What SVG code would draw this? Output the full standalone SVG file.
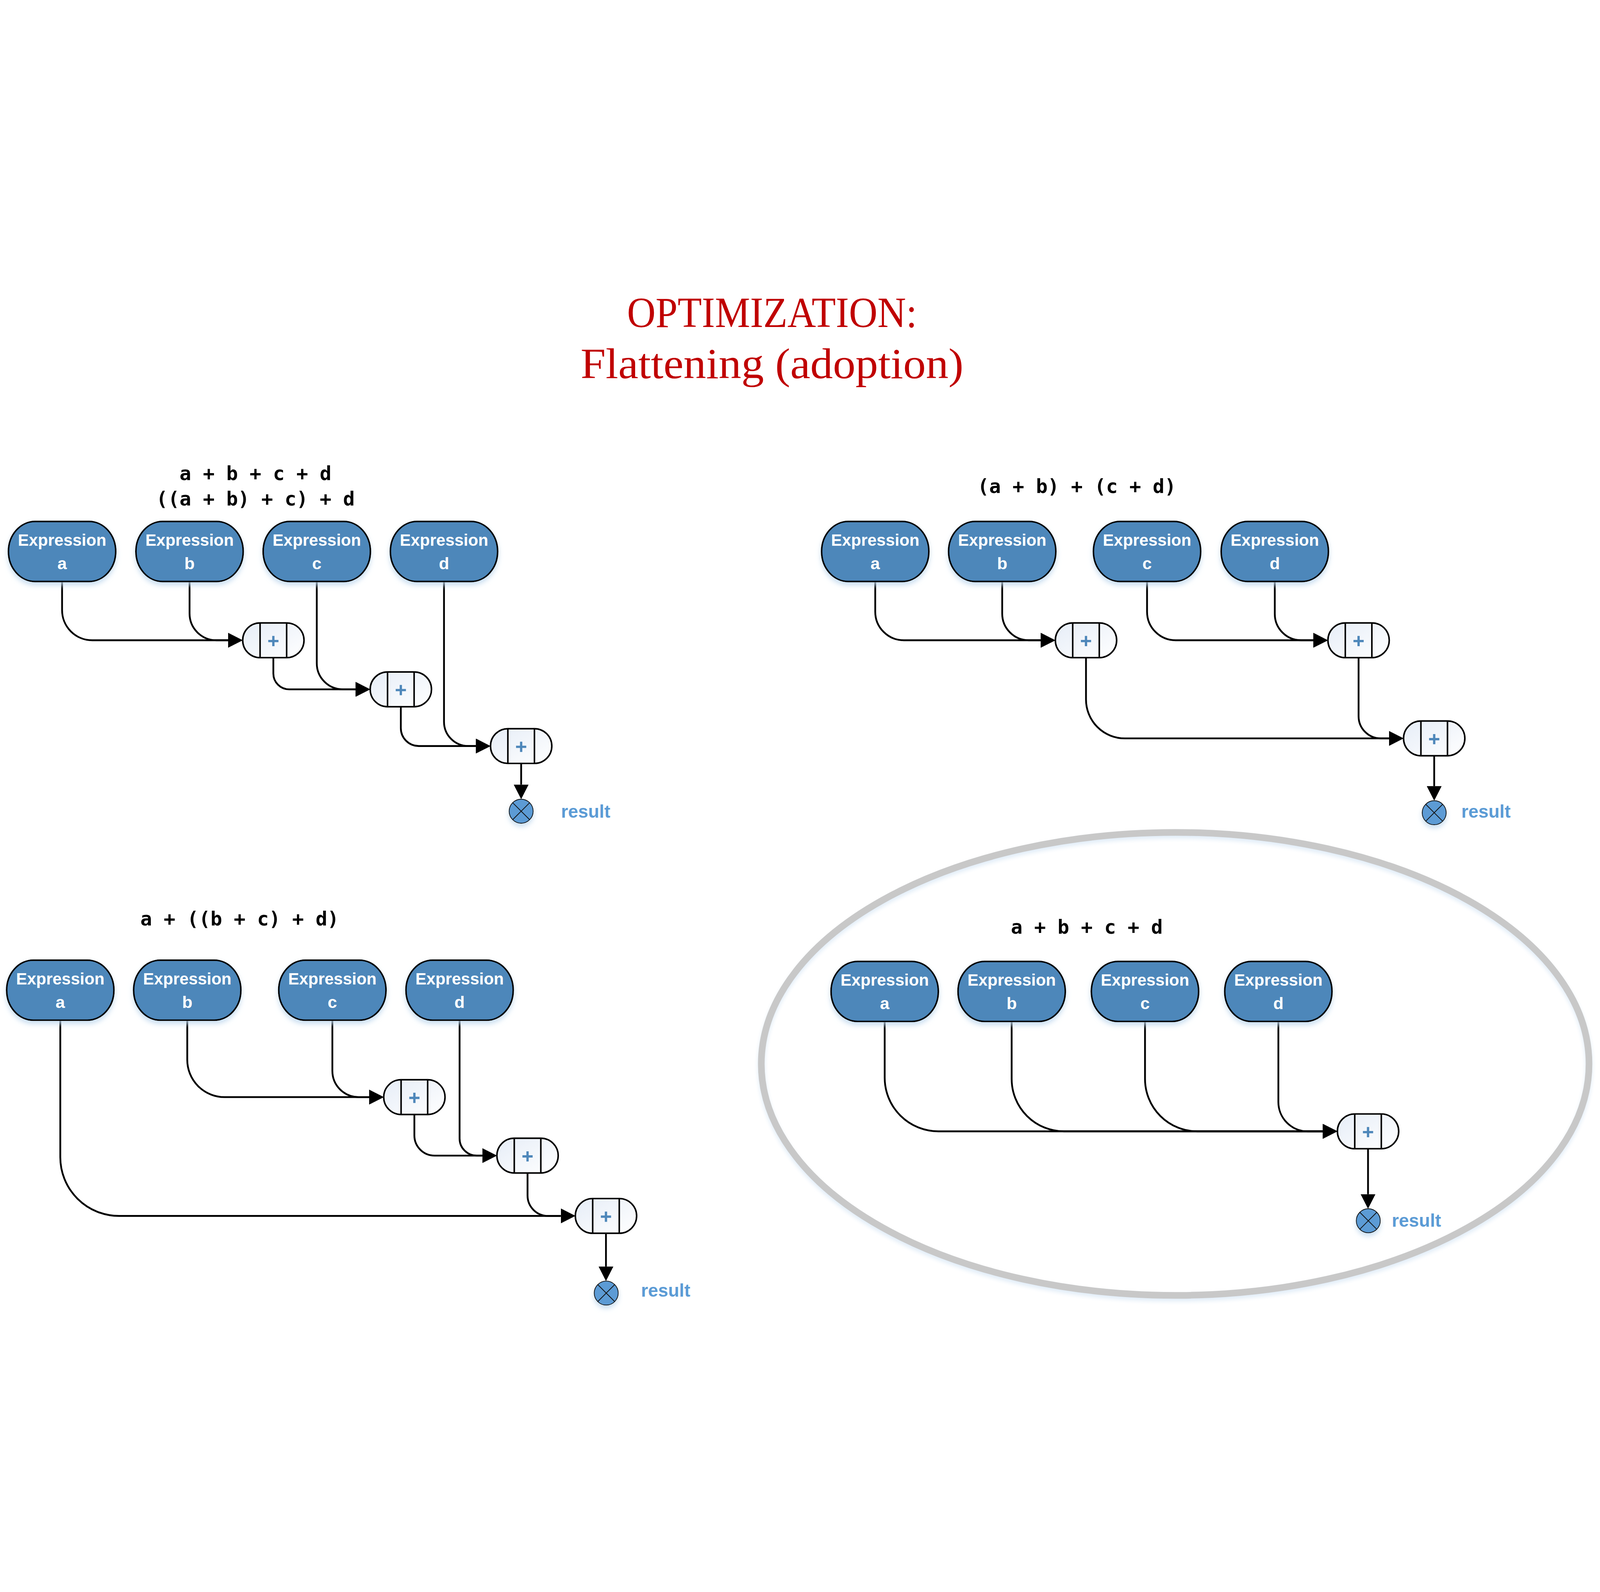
<svg xmlns="http://www.w3.org/2000/svg" width="6263" height="4075" viewBox="0 0 6263 4075">
<defs>
<style>
svg:root{width:100vw;height:100vh;overflow:hidden}
.box{fill:#4E87BA;stroke:#000;stroke-width:6;filter:url(#sh)}
.bt{font-family:"Liberation Sans",Arial,sans-serif;font-weight:bold;font-size:66px;fill:#fff;text-anchor:middle}
.op{fill:url(#opg);stroke:#000;stroke-width:6}
.opl{stroke:#000;stroke-width:6;fill:none}
.plus{stroke:#4E87BA;stroke-width:9;fill:none}
.res{fill:#5B9BD5;stroke:#111;stroke-width:3;filter:url(#sh)}
.resx{stroke:#111;stroke-width:3;fill:none}
.rt{font-family:"Liberation Sans",Arial,sans-serif;font-weight:bold;font-size:72px;fill:#5B9BD5}
.ex{font-family:"DejaVu Sans Mono","Liberation Mono",monospace;font-weight:bold;font-size:76px;fill:#000;text-anchor:middle}
.ttl{font-family:"Liberation Serif","Times New Roman",serif;font-size:169px;fill:#C00000;text-anchor:middle}
.conn{fill:none;stroke:#000;stroke-width:7;marker-end:url(#arr)}
</style>
<linearGradient id="opg" x1="0" y1="0" x2="1" y2="1">
<stop offset="0" stop-color="#E6EDF7"/>
<stop offset="1" stop-color="#FFFFFF"/>
</linearGradient>
<filter id="sh" x="-20%" y="-20%" width="140%" height="170%">
<feGaussianBlur in="SourceAlpha" stdDeviation="10" result="b"/>
<feOffset in="b" dy="12" result="o"/>
<feFlood flood-color="#BDD7EE" flood-opacity="0.8"/>
<feComposite in2="o" operator="in" result="s"/>
<feMerge><feMergeNode in="s"/><feMergeNode in="SourceGraphic"/></feMerge>
</filter>
<filter id="esh" x="-5%" y="-5%" width="110%" height="110%">
<feGaussianBlur in="SourceAlpha" stdDeviation="8" result="b"/>
<feOffset in="b" dy="10" result="o"/>
<feFlood flood-color="#DEEBF7" flood-opacity="0.9"/>
<feComposite in2="o" operator="in" result="s"/>
<feMerge><feMergeNode in="s"/><feMergeNode in="SourceGraphic"/></feMerge>
</filter>
<marker id="arr" viewBox="0 0 57 58" refX="0" refY="29" markerWidth="57" markerHeight="58" markerUnits="userSpaceOnUse" orient="auto">
<path d="M0,0L57,29L0,58z" fill="#000"/>
</marker>
</defs>
<rect width="6263" height="4075" fill="#fff"/>

<g id="title">
<text class="ttl" x="3022" y="202" textLength="1135" lengthAdjust="spacingAndGlyphs">OPTIMIZATION:</text>
<text class="ttl" x="3022" y="402" textLength="1499" lengthAdjust="spacingAndGlyphs">Flattening (adoption)</text>
</g>

<g id="group-ellipse">
<ellipse cx="4600" cy="3086" rx="1620" ry="906" fill="none" stroke="#C8C8C8" stroke-width="26" filter="url(#esh)"/>
</g>

<g id="formulas">
<text class="ex" x="1000" y="801">a + b + c + d</text>
<text class="ex" x="1000" y="901">((a + b) + c) + d</text>
<text class="ex" x="4215" y="851">(a + b) + (c + d)</text>
<text class="ex" x="938" y="2544">a + ((b + c) + d)</text>
<text class="ex" x="4254" y="2576">a + b + c + d</text>
</g>

<g id="connectors">
<path class="conn" d="M243,1198V1310A118,118 0 0 0 361,1428H893"/>
<path class="conn" d="M742,1198V1323A105,105 0 0 0 847,1428H893"/>
<path class="conn" d="M1070,1496V1558A62,62 0 0 0 1132,1620H1392"/>
<path class="conn" d="M1240,1198V1518A102,102 0 0 0 1342,1620H1392"/>
<path class="conn" d="M1569,1688V1772A70,70 0 0 0 1639,1842H1863"/>
<path class="conn" d="M1738,1198V1747A95,95 0 0 0 1833,1842H1863"/>
<path class="conn" d="M2040,1910V1993"/>
<path class="conn" d="M3426,1198V1316A112,112 0 0 0 3538,1428H4074"/>
<path class="conn" d="M3923,1198V1324A104,104 0 0 0 4027,1428H4074"/>
<path class="conn" d="M4490,1198V1316A112,112 0 0 0 4602,1428H5141"/>
<path class="conn" d="M4990,1198V1325A103,103 0 0 0 5093,1428H5141"/>
<path class="conn" d="M4251,1496V1660A152,152 0 0 0 4403,1812H5437"/>
<path class="conn" d="M5318,1496V1725A87,87 0 0 0 5405,1812H5437"/>
<path class="conn" d="M5614,1880V1999"/>
<path class="conn" d="M733,2915V3070A146,146 0 0 0 879,3216H1445"/>
<path class="conn" d="M1301,2915V3113A103,103 0 0 0 1404,3216H1445"/>
<path class="conn" d="M236,2915V3451A230,230 0 0 0 466,3681H2195"/>
<path class="conn" d="M1622,3284V3366A79,79 0 0 0 1701,3445H1888"/>
<path class="conn" d="M1799,2915V3378A67,67 0 0 0 1866,3445H1888"/>
<path class="conn" d="M2065,3513V3601A80,80 0 0 0 2145,3681H2195"/>
<path class="conn" d="M2372,3749V3879"/>
<path class="conn" d="M3463,2920V3140A210,210 0 0 0 3673,3350H5178"/>
<path class="conn" d="M3960,2920V3145A205,205 0 0 0 4165,3350H5178"/>
<path class="conn" d="M4482,2920V3145A205,205 0 0 0 4687,3350H5178"/>
<path class="conn" d="M5004,2920V3235A115,115 0 0 0 5119,3350H5178"/>
<path class="conn" d="M5355,3418V3596"/>
</g>

<g id="tl-expr-a"><rect class="box" x="33" y="963" width="420" height="235" rx="104" ry="117.5"/><text class="bt" x="243" y="1058" textLength="346" lengthAdjust="spacingAndGlyphs">Expression</text><text class="bt" x="243" y="1150">a</text></g>
<g id="tl-expr-b"><rect class="box" x="532" y="963" width="420" height="235" rx="104" ry="117.5"/><text class="bt" x="742" y="1058" textLength="346" lengthAdjust="spacingAndGlyphs">Expression</text><text class="bt" x="742" y="1150">b</text></g>
<g id="tl-expr-c"><rect class="box" x="1030" y="963" width="420" height="235" rx="104" ry="117.5"/><text class="bt" x="1240" y="1058" textLength="346" lengthAdjust="spacingAndGlyphs">Expression</text><text class="bt" x="1240" y="1150">c</text></g>
<g id="tl-expr-d"><rect class="box" x="1528" y="963" width="420" height="235" rx="104" ry="117.5"/><text class="bt" x="1738" y="1058" textLength="346" lengthAdjust="spacingAndGlyphs">Expression</text><text class="bt" x="1738" y="1150">d</text></g>
<g id="tl-plus-1"><rect class="op" x="950" y="1360" width="240" height="136" rx="68"/><path class="opl" d="M1018,1360V1496M1122,1360V1496"/><path class="plus" d="M1050,1431H1090M1070,1411V1451"/></g>
<g id="tl-plus-2"><rect class="op" x="1449" y="1552" width="240" height="136" rx="68"/><path class="opl" d="M1517,1552V1688M1621,1552V1688"/><path class="plus" d="M1549,1623H1589M1569,1603V1643"/></g>
<g id="tl-plus-3"><rect class="op" x="1920" y="1774" width="240" height="136" rx="68"/><path class="opl" d="M1988,1774V1910M2092,1774V1910"/><path class="plus" d="M2020,1845H2060M2040,1825V1865"/></g>
<g id="tl-result"><circle class="res" cx="2040" cy="2097" r="47"/><path class="resx" d="M2007,2064L2073,2130M2073,2064L2007,2130"/><text class="rt" x="2196" y="2122" textLength="193" lengthAdjust="spacingAndGlyphs">result</text></g>

<g id="tr-expr-a"><rect class="box" x="3216" y="963" width="420" height="235" rx="104" ry="117.5"/><text class="bt" x="3426" y="1058" textLength="346" lengthAdjust="spacingAndGlyphs">Expression</text><text class="bt" x="3426" y="1150">a</text></g>
<g id="tr-expr-b"><rect class="box" x="3713" y="963" width="420" height="235" rx="104" ry="117.5"/><text class="bt" x="3923" y="1058" textLength="346" lengthAdjust="spacingAndGlyphs">Expression</text><text class="bt" x="3923" y="1150">b</text></g>
<g id="tr-expr-c"><rect class="box" x="4280" y="963" width="420" height="235" rx="104" ry="117.5"/><text class="bt" x="4490" y="1058" textLength="346" lengthAdjust="spacingAndGlyphs">Expression</text><text class="bt" x="4490" y="1150">c</text></g>
<g id="tr-expr-d"><rect class="box" x="4780" y="963" width="420" height="235" rx="104" ry="117.5"/><text class="bt" x="4990" y="1058" textLength="346" lengthAdjust="spacingAndGlyphs">Expression</text><text class="bt" x="4990" y="1150">d</text></g>
<g id="tr-plus-1"><rect class="op" x="4131" y="1360" width="240" height="136" rx="68"/><path class="opl" d="M4199,1360V1496M4303,1360V1496"/><path class="plus" d="M4231,1431H4271M4251,1411V1451"/></g>
<g id="tr-plus-2"><rect class="op" x="5198" y="1360" width="240" height="136" rx="68"/><path class="opl" d="M5266,1360V1496M5370,1360V1496"/><path class="plus" d="M5298,1431H5338M5318,1411V1451"/></g>
<g id="tr-plus-3"><rect class="op" x="5494" y="1744" width="240" height="136" rx="68"/><path class="opl" d="M5562,1744V1880M5666,1744V1880"/><path class="plus" d="M5594,1815H5634M5614,1795V1835"/></g>
<g id="tr-result"><circle class="res" cx="5614" cy="2103" r="47"/><path class="resx" d="M5581,2070L5647,2136M5647,2070L5581,2136"/><text class="rt" x="5720" y="2122" textLength="193" lengthAdjust="spacingAndGlyphs">result</text></g>

<g id="bl-expr-a"><rect class="box" x="26" y="2680" width="420" height="235" rx="104" ry="117.5"/><text class="bt" x="236" y="2775" textLength="346" lengthAdjust="spacingAndGlyphs">Expression</text><text class="bt" x="236" y="2867">a</text></g>
<g id="bl-expr-b"><rect class="box" x="523" y="2680" width="420" height="235" rx="104" ry="117.5"/><text class="bt" x="733" y="2775" textLength="346" lengthAdjust="spacingAndGlyphs">Expression</text><text class="bt" x="733" y="2867">b</text></g>
<g id="bl-expr-c"><rect class="box" x="1091" y="2680" width="420" height="235" rx="104" ry="117.5"/><text class="bt" x="1301" y="2775" textLength="346" lengthAdjust="spacingAndGlyphs">Expression</text><text class="bt" x="1301" y="2867">c</text></g>
<g id="bl-expr-d"><rect class="box" x="1589" y="2680" width="420" height="235" rx="104" ry="117.5"/><text class="bt" x="1799" y="2775" textLength="346" lengthAdjust="spacingAndGlyphs">Expression</text><text class="bt" x="1799" y="2867">d</text></g>
<g id="bl-plus-1"><rect class="op" x="1502" y="3148" width="240" height="136" rx="68"/><path class="opl" d="M1570,3148V3284M1674,3148V3284"/><path class="plus" d="M1602,3219H1642M1622,3199V3239"/></g>
<g id="bl-plus-2"><rect class="op" x="1945" y="3377" width="240" height="136" rx="68"/><path class="opl" d="M2013,3377V3513M2117,3377V3513"/><path class="plus" d="M2045,3448H2085M2065,3428V3468"/></g>
<g id="bl-plus-3"><rect class="op" x="2252" y="3613" width="240" height="136" rx="68"/><path class="opl" d="M2320,3613V3749M2424,3613V3749"/><path class="plus" d="M2352,3684H2392M2372,3664V3704"/></g>
<g id="bl-result"><circle class="res" cx="2373" cy="3983" r="47"/><path class="resx" d="M2340,3950L2406,4016M2406,3950L2340,4016"/><text class="rt" x="2509" y="3997" textLength="193" lengthAdjust="spacingAndGlyphs">result</text></g>

<g id="br-expr-a"><rect class="box" x="3253" y="2685" width="420" height="235" rx="104" ry="117.5"/><text class="bt" x="3463" y="2780" textLength="346" lengthAdjust="spacingAndGlyphs">Expression</text><text class="bt" x="3463" y="2872">a</text></g>
<g id="br-expr-b"><rect class="box" x="3750" y="2685" width="420" height="235" rx="104" ry="117.5"/><text class="bt" x="3960" y="2780" textLength="346" lengthAdjust="spacingAndGlyphs">Expression</text><text class="bt" x="3960" y="2872">b</text></g>
<g id="br-expr-c"><rect class="box" x="4272" y="2685" width="420" height="235" rx="104" ry="117.5"/><text class="bt" x="4482" y="2780" textLength="346" lengthAdjust="spacingAndGlyphs">Expression</text><text class="bt" x="4482" y="2872">c</text></g>
<g id="br-expr-d"><rect class="box" x="4794" y="2685" width="420" height="235" rx="104" ry="117.5"/><text class="bt" x="5004" y="2780" textLength="346" lengthAdjust="spacingAndGlyphs">Expression</text><text class="bt" x="5004" y="2872">d</text></g>
<g id="br-plus-1"><rect class="op" x="5235" y="3282" width="240" height="136" rx="68"/><path class="opl" d="M5303,3282V3418M5407,3282V3418"/><path class="plus" d="M5335,3353H5375M5355,3333V3373"/></g>
<g id="br-result"><circle class="res" cx="5356" cy="3700" r="47"/><path class="resx" d="M5323,3667L5389,3733M5389,3667L5323,3733"/><text class="rt" x="5448" y="3724" textLength="193" lengthAdjust="spacingAndGlyphs">result</text></g>
</svg>
